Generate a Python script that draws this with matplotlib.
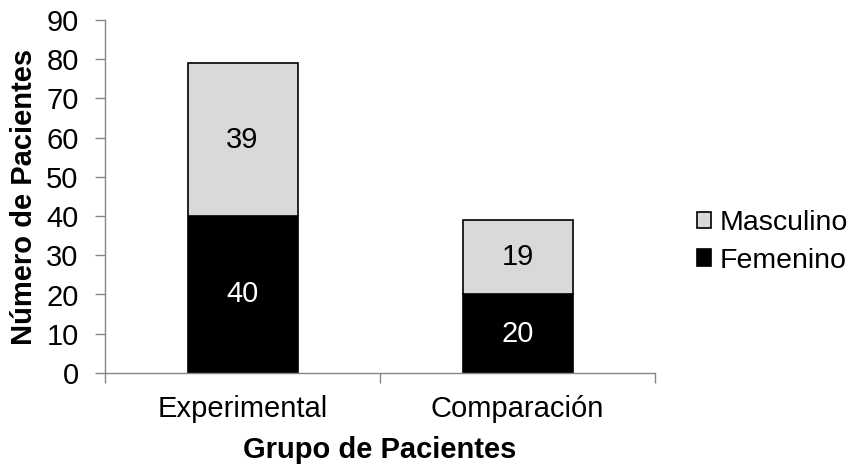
import matplotlib.pyplot as plt
import numpy as np

plt.rcParams['font.family'] = ['Liberation Sans', 'DejaVu Sans']

grupos = ['Experimental', 'Comparación']
femenino = [40, 20]
masculino = [39, 19]

fig = plt.figure(figsize=(8.54, 4.65), dpi=100)
ax = fig.add_axes([0.123, 0.198, 0.644, 0.759])

fs = 21
x = np.arange(len(grupos))
ax.bar(x, femenino, width=0.4, color='black', edgecolor='black', linewidth=1.2, label='Femenino')
ax.bar(x, masculino, width=0.4, bottom=femenino, color='#d9d9d9', edgecolor='black',
       linewidth=1.2, label='Masculino')

for i in range(len(grupos)):
    ax.text(x[i], femenino[i] / 2, str(femenino[i]), ha='center', va='center', color='white', fontsize=fs)
    ax.text(x[i], femenino[i] + masculino[i] / 2, str(masculino[i]), ha='center', va='center',
            color='black', fontsize=fs)

ax.set_xlim(-0.5, 1.5)
ax.set_ylim(0, 90)
ax.set_yticks(range(0, 91, 10))
ax.tick_params(axis='y', labelsize=fs, length=7, color='#868686', width=1, pad=12)

# etiquetas de categoria sin tick, ticks en los limites de categoria
ax.set_xticks(x)
ax.set_xticklabels(grupos, fontsize=fs)
ax.tick_params(axis='x', length=0, pad=16)
ax.set_xticks([-0.5, 0.5, 1.5], minor=True)
ax.tick_params(axis='x', which='minor', length=7, color='#868686', width=1)

for s in ['top', 'right']:
    ax.spines[s].set_visible(False)
for s in ['left', 'bottom']:
    ax.spines[s].set_color('#868686')
    ax.spines[s].set_linewidth(1)

ax.set_ylabel('Número de Pacientes', fontsize=fs, fontweight='bold', labelpad=6)
ax.set_xlabel('Grupo de Pacientes', fontsize=fs, fontweight='bold', labelpad=9)

h, l = ax.get_legend_handles_labels()
ax.legend(h[::-1], l[::-1], loc='center left', bbox_to_anchor=(1.076, 0.371), frameon=False,
          fontsize=fs - 0.5, handlelength=0.5, handleheight=0.5, handletextpad=0.3,
          labelspacing=0.4, borderpad=0, borderaxespad=0)

fig.savefig('out.png', dpi=100)
